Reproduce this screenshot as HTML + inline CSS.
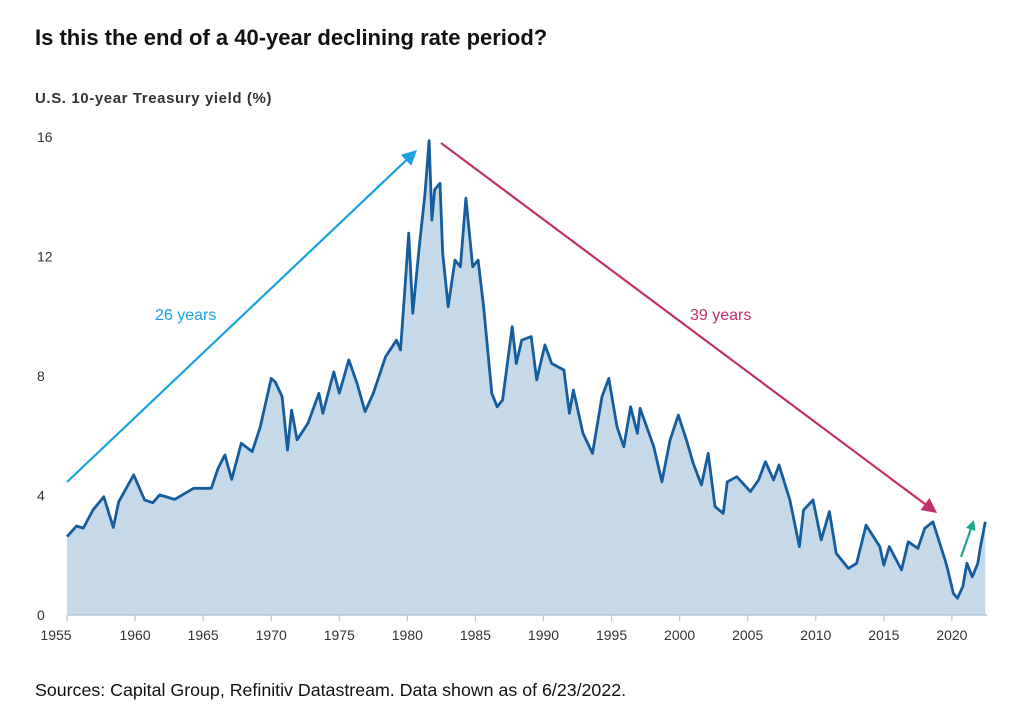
<!DOCTYPE html>
<html><head><meta charset="utf-8"><style>
body{margin:0;background:#fff;font-family:"Liberation Sans",sans-serif;}
svg{display:block}
</style></head><body>
<svg id="chart" width="1018" height="720">
<text x="35" y="45" font-size="22" font-weight="bold" fill="#111">Is this the end of a 40-year declining rate period?</text>
<text x="35" y="103" font-size="15" font-weight="bold" fill="#333" letter-spacing="0.6">U.S. 10-year Treasury yield (%)</text>
<text x="35" y="696" font-size="17.8" fill="#111">Sources: Capital Group, Refinitiv Datastream. Data shown as of 6/23/2022.</text>
<g id="plot"></g>
</svg>
<script>
const years=[1955.0,1955.7,1956.2,1956.9,1957.7,1958.4,1958.8,1959.9,1960.7,1961.3,1961.8,1962.9,1964.3,1965.6,1966.1,1966.6,1967.1,1967.8,1968.6,1969.2,1970.0,1970.3,1970.8,1971.2,1971.5,1971.9,1972.7,1973.5,1973.8,1974.6,1975.0,1975.7,1976.3,1976.9,1977.5,1978.4,1979.2,1979.5,1979.8,1980.1,1980.4,1980.9,1981.3,1981.6,1981.8,1982.0,1982.4,1982.6,1983.0,1983.5,1983.9,1984.3,1984.8,1985.2,1985.6,1986.2,1986.6,1987.0,1987.7,1988.0,1988.4,1989.1,1989.5,1990.1,1990.6,1991.5,1991.9,1992.2,1992.9,1993.6,1994.3,1994.8,1995.4,1995.9,1996.4,1996.9,1997.1,1998.1,1998.7,1999.3,1999.9,2000.5,2001.0,2001.6,2002.1,2002.6,2003.2,2003.5,2004.2,2005.2,2005.8,2006.3,2006.9,2007.3,2008.1,2008.8,2009.1,2009.8,2010.4,2011.0,2011.5,2012.4,2013.0,2013.7,2014.7,2015.0,2015.4,2016.3,2016.8,2017.5,2018.0,2018.6,2019.5,2019.7,2020.1,2020.4,2020.8,2021.1,2021.5,2021.9,2022.1,2022.45];
const yields=[2.62,2.98,2.91,3.51,3.96,2.93,3.79,4.69,3.85,3.76,4.02,3.87,4.24,4.24,4.91,5.36,4.54,5.75,5.47,6.30,7.92,7.8,7.31,5.52,6.86,5.86,6.42,7.42,6.75,8.14,7.42,8.54,7.76,6.81,7.42,8.65,9.20,8.87,10.77,12.78,10.10,12.44,14.11,15.88,13.22,14.23,14.45,12.11,10.32,11.88,11.66,13.95,11.66,11.88,10.32,7.42,6.97,7.20,9.65,8.42,9.20,9.32,7.87,9.04,8.42,8.20,6.75,7.53,6.08,5.41,7.31,7.92,6.30,5.63,6.97,6.08,6.92,5.63,4.46,5.86,6.69,5.86,5.08,4.35,5.41,3.63,3.40,4.46,4.63,4.13,4.52,5.13,4.52,5.02,3.85,2.29,3.51,3.85,2.51,3.46,2.07,1.56,1.73,3.01,2.29,1.67,2.29,1.51,2.45,2.23,2.90,3.12,1.84,1.51,0.73,0.56,0.95,1.73,1.28,1.73,2.29,3.12];
const xTicks=[1955,1960,1965,1970,1975,1980,1985,1990,1995,2000,2005,2010,2015,2020];
const yTicks=[0,4,8,12,16];
const NS="http://www.w3.org/2000/svg";
const g=document.getElementById('plot');
const X=y=>67+(y-1955)*13.614;
const Y=v=>615-v*29.875;
function mk(t,a){const e=document.createElementNS(NS,t);for(const k in a)e.setAttribute(k,a[k]);g.appendChild(e);return e;}
let d=years.map((y,i)=>(i?'L':'M')+X(y).toFixed(1)+','+Y(yields[i]).toFixed(1)).join('');
const area=mk('path',{d:d+'L'+X(years[years.length-1])+','+Y(0)+'L'+X(years[0])+','+Y(0)+'Z',fill:'#c5d9e8'});


const line=mk('path',{d:d,fill:'none',stroke:'#165d9c','stroke-width':2.8,'stroke-linejoin':'round'});


const base=mk('line',{x1:X(1955),x2:X(years[years.length-1])+2,y1:Y(0),y2:Y(0),stroke:'#b8c8d4','stroke-width':1.5});


xTicks.forEach(t=>{
 const l=mk('line',{x1:X(t),x2:X(t),y1:Y(0),y2:Y(0)+6,stroke:'#b8c8d4','stroke-width':1.2});
 
 
 const tx=mk('text',{x:X(t)-(t===1955?11:0),y:640,'text-anchor':'middle','font-size':14,fill:'#333'});
 tx.textContent=t;
 
 
});
yTicks.forEach(v=>{
 const tx=mk('text',{x:37,y:Y(v)+5,'font-size':14,fill:'#333'});
 tx.textContent=v;
 
 
});
function arrow(x1,y1,x2,y2,c,w,hs,name){
 const a=Math.atan2(y2-y1,x2-x1);
 const bx=x2-hs*Math.cos(a),by=y2-hs*Math.sin(a);
 const l=mk('line',{x1:x1,y1:y1,x2:bx,y2:by,stroke:c,'stroke-width':w});
 
 
 const p=mk('polygon',{points:`${x2},${y2} ${bx+hs*0.5*Math.sin(a)},${by-hs*0.5*Math.cos(a)} ${bx-hs*0.5*Math.sin(a)},${by+hs*0.5*Math.cos(a)}`,fill:c});
 
 
}
arrow(67,482,417,150,'#1ba1e2',2.2,15,'rise-arrow');
arrow(441,143,937,513,'#c0306a',2.2,15,'decline-arrow');
arrow(961,557,974,520,'#1ba88e',2.2,10,'recent-rise-arrow');
const t1=mk('text',{x:155,y:320,'font-size':16,fill:'#1ba1e2'});t1.textContent='26 years';


const t2=mk('text',{x:690,y:320,'font-size':16,fill:'#c0306a'});t2.textContent='39 years';


</script>
</body></html>
